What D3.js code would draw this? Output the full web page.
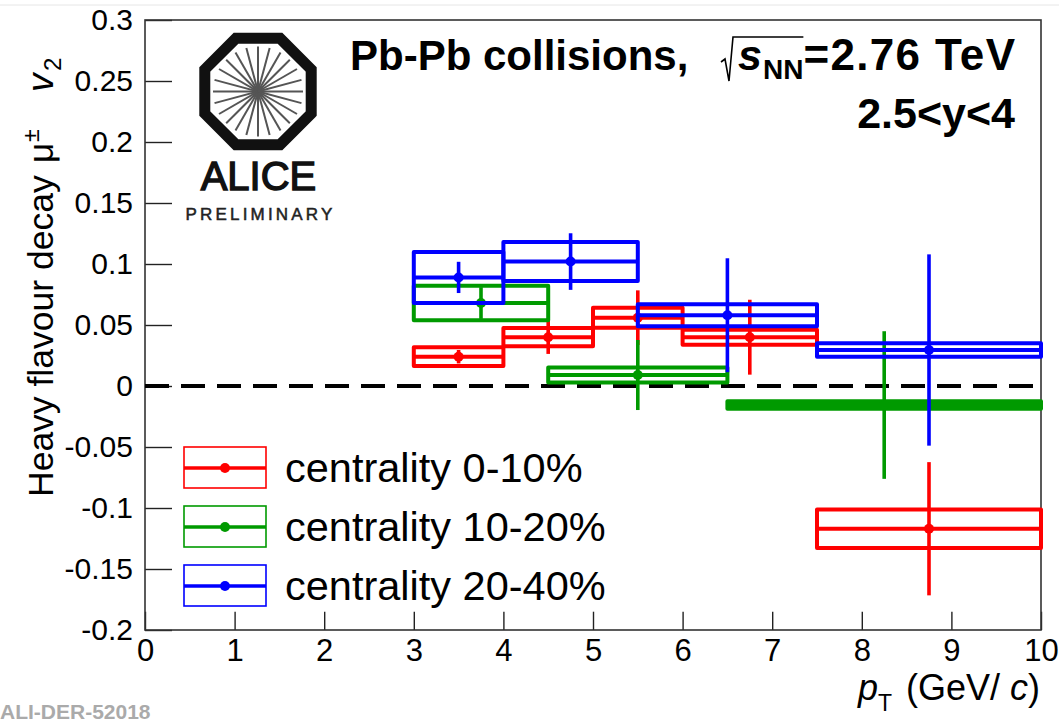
<!DOCTYPE html>
<html>
<head>
<meta charset="utf-8">
<script src="https://cdn.jsdelivr.net/npm/d3@7"></script>
<style>
  html, body { margin: 0; padding: 0; background: #fff; }
  svg { display: block; }
  text { font-family: "Liberation Sans", Arial, Helvetica, sans-serif; }
</style>
</head>
<body>
<svg id="chart" width="1059" height="723"></svg>
<script>
// ---- data: heavy-flavour decay muon v2 vs pT, three centrality classes ----
// centrality 0-10%
const bins0010  = [[3, 4], [4, 5], [5, 6], [6, 7.5], [7.5, 10]];
const pt0010    = [3.5, 4.5, 5.5, 6.75, 8.75];
const v2_0010   = [0.024, 0.040, 0.056, 0.040, -0.117];
const stat0010  = [0.0055, 0.0137, 0.0224, 0.0307, 0.0546];
const syst0010  = [0.0077, 0.0075, 0.0082, 0.0061, 0.0157];
// centrality 10-20%
const bins1020  = [[3, 4.5], [4.5, 6.5], [6.5, 10]];
const pt1020    = [3.75, 5.5, 8.25];
const v2_1020   = [0.068, 0.009, -0.0156];
const stat1020  = [0.013, 0.0287, 0.0605];
const syst1020  = [0.0141, 0.0061, 0.0030];
// centrality 20-40%
const bins2040  = [[3, 4], [4, 5.5], [5.5, 7.5], [7.5, 10]];
const pt2040    = [3.5, 4.75, 6.5, 8.75];
const v2_2040   = [0.089, 0.102, 0.058, 0.0295];
const stat2040  = [0.0128, 0.0232, 0.0467, 0.0784];
const syst2040  = [0.0209, 0.016, 0.009, 0.0055];

const seriesNames  = ["centrality 0-10%", "centrality 10-20%", "centrality 20-40%"];
const seriesColors = ["#ff0000", "#009a00", "#0000ff"];

// axis ticks
const xTicks      = [0, 1, 2, 3, 4, 5, 6, 7, 8, 9, 10];
const xTickLabels = ["0", "1", "2", "3", "4", "5", "6", "7", "8", "9", "10"];
const yTicks      = [-0.2, -0.15, -0.1, -0.05, 0, 0.05, 0.1, 0.15, 0.2, 0.25, 0.3];
const yTickLabels = ["-0.2", "-0.15", "-0.1", "-0.05", "0", "0.05", "0.1", "0.15", "0.2", "0.25", "0.3"];

// ---- layout ----
const W = 1059, H = 723;
const frame = { left: 145, right: 1041, top: 20, bottom: 630 };

const svg = d3.select("#chart");
const x = d3.scaleLinear().domain([0, 10]).range([frame.left, frame.right]);
const y = d3.scaleLinear().domain([-0.2, 0.3]).range([frame.bottom, frame.top]);

// faint page edge line at the top
svg.append("line").attr("x1", 0).attr("x2", W).attr("y1", 5).attr("y2", 5)
  .attr("stroke", "#e6e6e6").attr("stroke-width", 1);

// ---- axes (ticks point inward) ----
const minorX = d3.range(0, 10.001, 0.2).filter(v => Math.abs(v - Math.round(v)) > 1e-6);
const minorY = d3.range(-0.2, 0.3001, 0.01).filter(v => Math.abs(v / 0.05 - Math.round(v / 0.05)) > 1e-6);

const gx = svg.append("g").attr("transform", `translate(0,${frame.bottom})`);
gx.call(d3.axisBottom(x).tickValues(minorX).tickSize(-9.2).tickFormat(""));
gx.call(d3.axisBottom(x).tickValues(xTicks).tickSizeInner(-18.3).tickSizeOuter(0).tickPadding(9)
  .tickFormat((d, i) => xTickLabels[i]));
gx.selectAll(".domain").remove();
gx.selectAll("line").attr("stroke", "#222").attr("stroke-width", 1.4);
gx.selectAll("text").attr("font-size", 31).attr("fill", "#000")
  .attr("font-family", "Liberation Sans, Arial, sans-serif");

const gy = svg.append("g").attr("transform", `translate(${frame.left},0)`);
gy.call(d3.axisLeft(y).tickValues(minorY).tickSize(-13.5).tickFormat(""));
gy.call(d3.axisLeft(y).tickValues(yTicks).tickSizeInner(-27).tickSizeOuter(0).tickPadding(12)
  .tickFormat((d, i) => yTickLabels[i]));
gy.selectAll(".domain").remove();
gy.selectAll("line").attr("stroke", "#222").attr("stroke-width", 1.4);
gy.selectAll("text").attr("font-size", 30).attr("fill", "#000")
  .attr("font-family", "Liberation Sans, Arial, sans-serif");

// frame
svg.append("rect")
  .attr("x", frame.left).attr("y", frame.top)
  .attr("width", frame.right - frame.left).attr("height", frame.bottom - frame.top)
  .attr("fill", "none").attr("stroke", "#333").attr("stroke-width", 1.6);

// dashed zero line
svg.append("line")
  .attr("x1", x(0)).attr("x2", x(10)).attr("y1", y(0)).attr("y2", y(0))
  .attr("stroke", "#000").attr("stroke-width", 4).attr("stroke-dasharray", "24,12");

// ---- data marks ----
const series = [
  { bins: bins0010, pt: pt0010, v2: v2_0010, stat: stat0010, syst: syst0010 },
  { bins: bins1020, pt: pt1020, v2: v2_1020, stat: stat1020, syst: syst1020 },
  { bins: bins2040, pt: pt2040, v2: v2_2040, stat: stat2040, syst: syst2040 }
];

series.forEach((s, k) => {
  const color = seriesColors[k];
  const g = svg.append("g");
  const rows = s.pt.map((p, i) => ({ bin: s.bins[i], pt: p, v: s.v2[i], st: s.stat[i], sy: s.syst[i] }));
  // systematic boxes
  g.selectAll("rect.sys").data(rows).join("rect")
    .attr("x", d => x(d.bin[0])).attr("width", d => x(d.bin[1]) - x(d.bin[0]))
    .attr("y", d => y(d.v + d.sy)).attr("height", d => y(d.v - d.sy) - y(d.v + d.sy))
    .attr("fill", "none").attr("stroke", color).attr("stroke-width", 4)
    .attr("stroke-linejoin", "round");
  // horizontal bin-width bar
  g.selectAll("line.h").data(rows).join("line")
    .attr("x1", d => x(d.bin[0])).attr("x2", d => x(d.bin[1]))
    .attr("y1", d => y(d.v)).attr("y2", d => y(d.v))
    .attr("stroke", color).attr("stroke-width", 4);
  // statistical error bar
  g.selectAll("line.v").data(rows).join("line")
    .attr("x1", d => x(d.pt)).attr("x2", d => x(d.pt))
    .attr("y1", d => y(d.v + d.st)).attr("y2", d => y(d.v - d.st))
    .attr("stroke", color).attr("stroke-width", 3.6);
  // marker
  g.selectAll("circle").data(rows).join("circle")
    .attr("cx", d => x(d.pt)).attr("cy", d => y(d.v)).attr("r", 5)
    .attr("fill", color);
});

// ---- legend ----
const legend = svg.append("g");
const legendRows = [468, 527, 586];
seriesNames.forEach((name, i) => {
  const cy = legendRows[i];
  legend.append("rect").attr("x", 184).attr("y", cy - 21).attr("width", 82).attr("height", 41)
    .attr("fill", "none").attr("stroke", seriesColors[i]).attr("stroke-width", 1.6);
  legend.append("line").attr("x1", 184).attr("x2", 266).attr("y1", cy).attr("y2", cy)
    .attr("stroke", seriesColors[i]).attr("stroke-width", 3.6);
  legend.append("circle").attr("cx", 225).attr("cy", cy).attr("r", 5).attr("fill", seriesColors[i]);
  legend.append("text").attr("x", 285).attr("y", cy + 14).attr("font-size", 41.5).attr("fill", "#000")
    .text(name);
});

// ---- collision-system label ----
const titleY = 70;
svg.append("text").attr("x", 350).attr("y", titleY)
  .attr("font-size", 42).attr("font-weight", "bold").text("Pb-Pb collisions,");
const radStart = 721;
const tS = svg.append("text").attr("x", 738).attr("y", titleY)
  .attr("font-size", 43).attr("font-weight", "bold").attr("font-style", "italic").text("s");
let cx = 738 + tS.node().getComputedTextLength() + 1;
const tNN = svg.append("text").attr("x", cx).attr("y", titleY + 9)
  .attr("font-size", 28).attr("font-weight", "bold").text("NN");
cx += tNN.node().getComputedTextLength();
const radEnd = cx;
svg.append("path")
  .attr("d", `M${radStart},62 L${radStart + 4},59 L${radStart + 8},81 L${radStart + 12},37 L${radEnd},37`)
  .attr("fill", "none").attr("stroke", "#000").attr("stroke-width", 1.6);
const tEq = svg.append("text").attr("x", cx).attr("y", titleY)
  .attr("font-size", 44).attr("font-weight", "bold").text("=2.76 TeV");
// stretch the tail slightly so the line ends where the second line ends
const eqLen = tEq.node().getComputedTextLength();
if (cx + eqLen < 1015) tEq.attr("textLength", 1015 - cx).attr("lengthAdjust", "spacing");

svg.append("text").attr("x", 1015).attr("y", 128).attr("text-anchor", "end")
  .attr("font-size", 43).attr("font-weight", "bold").text("2.5<y<4");

// ---- axis titles ----
// vertical title, pieces placed along the rotated baseline (x = 53)
function vText(str, yStart, size, opts = {}) {
  const t = svg.append("text")
    .attr("transform", `translate(${53 + (opts.shift || 0)},${yStart}) rotate(-90)`)
    .attr("font-size", size).attr("fill", "#000").text(str);
  if (opts.italic) t.attr("font-style", "italic");
  return t;
}
vText("Heavy flavour decay", 497, 35.5);
vText("\u03bc", 163, 35);
vText("\u00b1", 142, 23, { shift: -14 });
vText("v", 92, 37, { italic: true });
vText("2", 71, 24, { shift: 8 });

const xTitle = svg.append("text").attr("x", 1040).attr("y", 700)
  .attr("text-anchor", "end").attr("font-size", 36).attr("fill", "#000");
xTitle.append("tspan").attr("font-style", "italic").text("p");
xTitle.append("tspan").attr("font-size", 23).attr("dy", 11).text("T");
xTitle.append("tspan").attr("dy", -11).attr("dx", 4).text(" (GeV/ ");
xTitle.append("tspan").attr("font-style", "italic").text("c");
xTitle.append("tspan").text(")");

// ---- ALICE Preliminary logo ----
const logo = svg.append("g").attr("transform", "translate(258,91.5)");
const spokes = d3.range(24).map(i => i * Math.PI / 12);
logo.selectAll("line").data(spokes).join("line")
  .attr("x1", 0).attr("y1", 0)
  .attr("x2", a => 45 * Math.cos(a)).attr("y2", a => 45 * Math.sin(a))
  .attr("stroke", "#555").attr("stroke-width", 2);
const octR = 53.2 / Math.cos(Math.PI / 8);
const oct = d3.range(8).map(i => {
  const a = Math.PI / 8 + i * Math.PI / 4;
  return [octR * Math.cos(a), octR * Math.sin(a)];
});
logo.append("path").attr("d", "M" + oct.map(p => p.join(",")).join("L") + "Z")
  .attr("fill", "none").attr("stroke", "#111").attr("stroke-width", 11);
svg.append("text").attr("x", 258.5).attr("y", 190).attr("text-anchor", "middle")
  .attr("font-family", "DejaVu Sans, sans-serif").attr("font-size", 40).attr("fill", "#111")
  .attr("stroke", "#111").attr("stroke-width", 1.4)
  .text("ALICE");
svg.append("text").attr("x", 260.5).attr("y", 219.5).attr("text-anchor", "middle")
  .attr("font-family", "DejaVu Sans, sans-serif").attr("font-size", 17).attr("letter-spacing", 3.2)
  .attr("fill", "#222").attr("stroke", "#222").attr("stroke-width", 0.5).text("PRELIMINARY");

// figure id
svg.append("text").attr("x", 0).attr("y", 719)
  .attr("font-family", "Liberation Mono, DejaVu Sans Mono, monospace").attr("font-weight", "bold")
  .attr("font-size", 21).attr("fill", "#aaa").text("ALI-DER-52018");
</script>
</body>
</html>
